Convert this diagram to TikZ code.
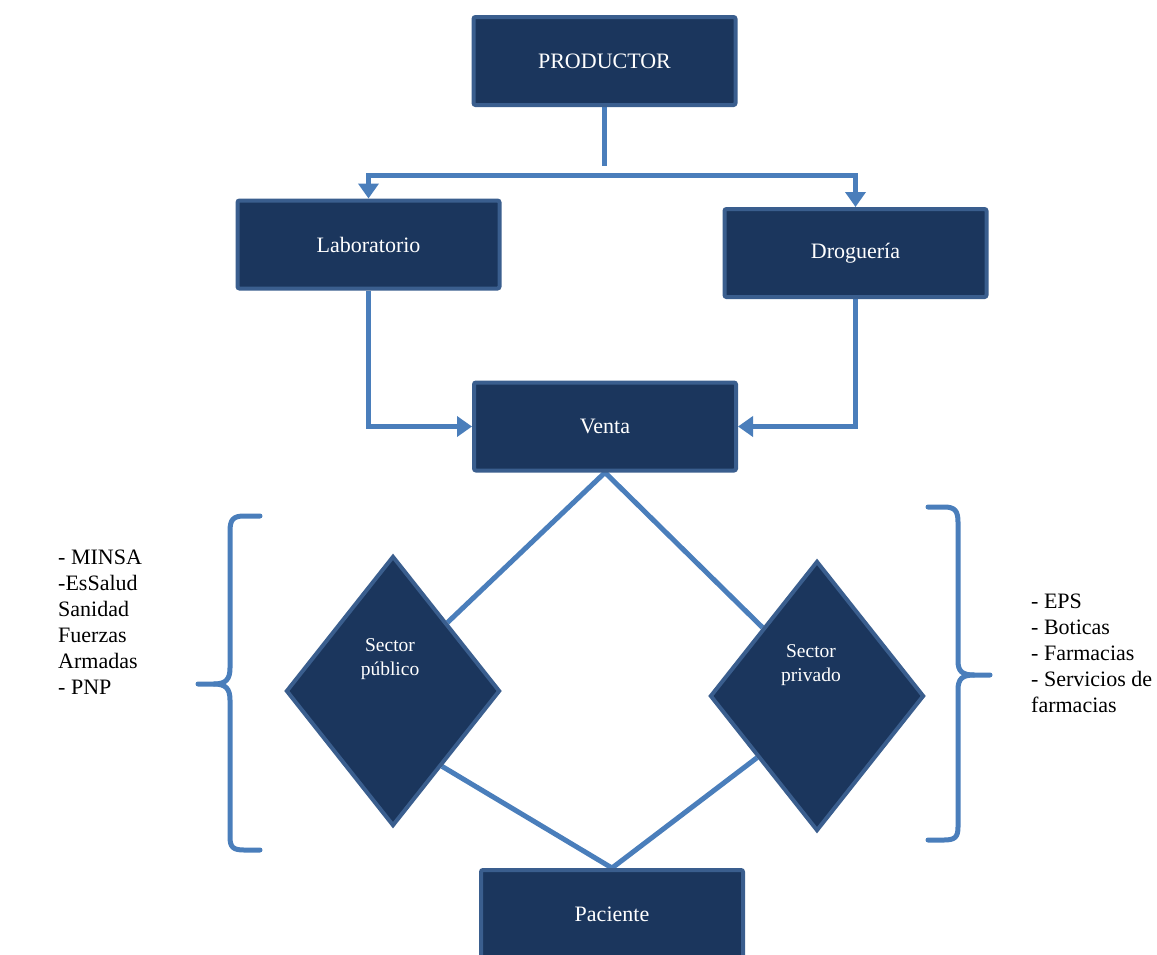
\documentclass[tikz,border=0pt]{standalone}
\usepackage{fontspec}
\setmainfont{Liberation Serif}
\usetikzlibrary{arrows.meta,shapes.geometric,calc,backgrounds}
\definecolor{navy}{HTML}{1B365D}
\definecolor{rim}{HTML}{3A5E8E}
\definecolor{linkblue}{HTML}{4A7EBB}
\begin{document}
\begin{tikzpicture}[x=1pt,y=-1pt,
  box/.style={draw=rim, fill=navy, line width=4pt, rounded corners=2pt,
    minimum width=262pt, minimum height=88pt, text=white,
    font=\fontsize{22}{26}\selectfont},
  gem/.style={diamond, draw=rim, fill=navy, line width=4pt,
    minimum width=214pt, minimum height=270pt, inner sep=0pt},
  gemtext/.style={text=white, align=center, inner sep=0pt,
    font=\fontsize{19.5}{24}\selectfont},
  wire/.style={draw=linkblue, line width=5pt},
  flow/.style={wire, -{Triangle[length=15pt,width=20pt]}},
  bracket/.style={draw=linkblue, line width=5pt, line cap=round},
  list/.style={align=left, anchor=north west, inner sep=0pt,
    font=\fontsize{22}{26}\selectfont}
]
\clip (0,0) rectangle (1157,954);

% boxes
\node[box] (prod) at (604.5,61) {PRODUCTOR};
\node[box] (lab)  at (368.5,244.5) {Laboratorio};
\node[box] (drog) at (855.5,253) {Droguería};
\node[box] (venta) at (605,426.5) {Venta};
\node[box] (pac)  at (612,914) {Paciente};

% sectors
\node[gem] (pub)  at (393,691) {};
\node[gem] (priv) at (817,696) {};
\node[gemtext] (pubtxt)  at (390,659) {Sector\\público};
\node[gemtext] (privtxt) at (811,665) {Sector\\privado};

% connectors, kept behind the shapes
\coordinate (split) at (604.5,175);
\begin{scope}[on background layer]
  \draw[wire] (prod.south) -- ($(split)+(0,-9)$);
  \draw[flow] (split) -| (lab.north);
  \draw[flow] (split) -| (drog.north);
  \draw[flow] (lab.south) |- (venta.west);
  \draw[flow] (drog.south) |- (venta.east);
  \draw[wire, line join=miter]
    ($(pub.north)!0.5!(pub.east)$) -- (venta.south) -- ($(priv.north)!0.5!(priv.west)$);
  \draw[wire, line join=miter]
    ($(pub.south)!0.45!(pub.east)$) -- (pac.north) -- ($(priv.south)!0.55!(priv.west)$);
\end{scope}

% brackets
\draw[bracket] (260,516) -- (244,516) .. controls (233,516) and (230,520) .. (230,531)
  -- (230,668) .. controls (230,679) and (226,684) .. (214,684) -- (198,684);
\draw[bracket] (214,684) .. controls (226,684) and (230,689) .. (230,700)
  -- (230,837) .. controls (230,847) and (233,850) .. (244,850) -- (260,850);
\draw[bracket] (928,507) -- (944,507) .. controls (955,507) and (958,511) .. (958,522)
  -- (958,661) .. controls (958,671) and (962,675) .. (974,675) -- (990,675);
\draw[bracket] (974,675) .. controls (962,675) and (958,679) .. (958,690)
  -- (958,827) .. controls (958,837) and (955,840) .. (944,840) -- (928,840);

% lists
\node[list] (publist) at (58,550) {- MINSA\\-EsSalud\\Sanidad\\Fuerzas\\Armadas\\- PNP};
\node[list] (privlist) at (1031,594) {- EPS\\- Boticas\\- Farmacias\\- Servicios de\\farmacias};
\end{tikzpicture}
\end{document}
